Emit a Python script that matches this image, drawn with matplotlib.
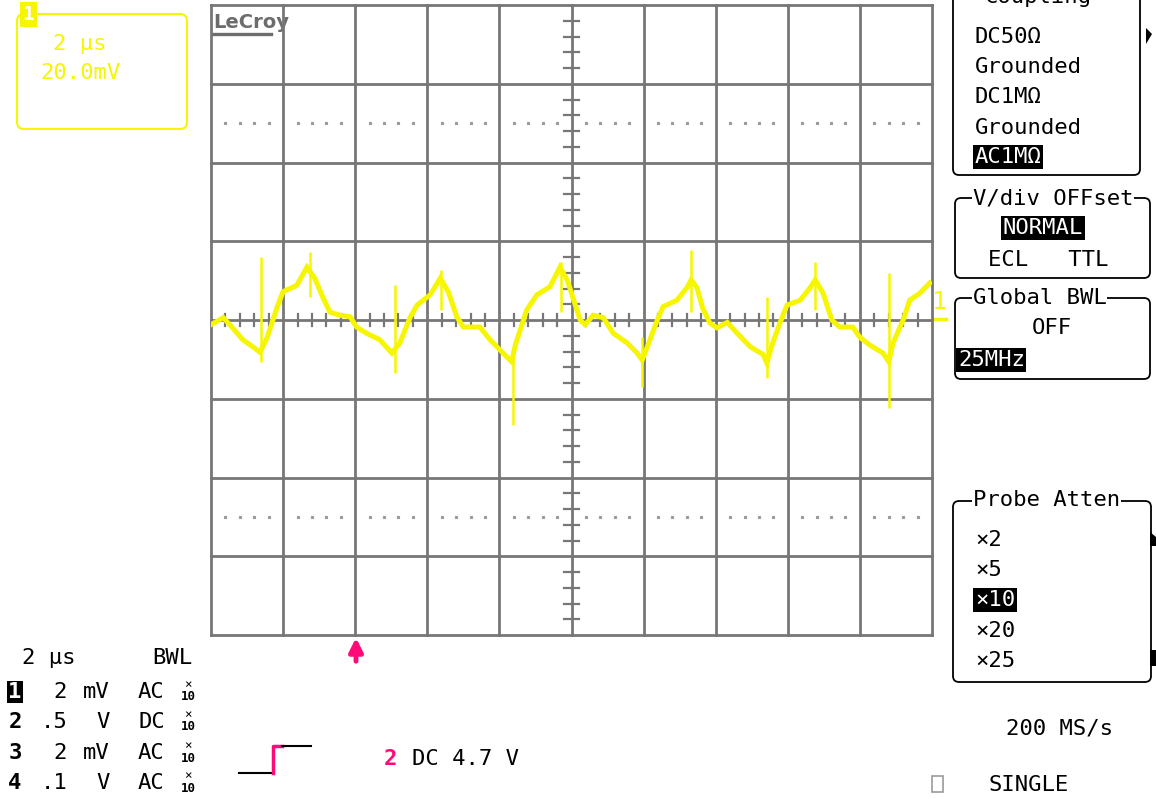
import matplotlib
matplotlib.use("Agg")
import matplotlib.pyplot as plt
from matplotlib.patches import FancyBboxPatch, Rectangle, Polygon

# Trace 1: time in divisions (2 us/div), level in divisions
trace_x = [0.00, 0.17, 0.30, 0.44, 0.58, 0.68, 0.78, 0.92, 1.00, 1.19, 1.33, 1.44,
           1.55, 1.65, 1.79, 1.93, 2.02, 2.16, 2.34, 2.51, 2.62, 2.76, 2.86, 3.04,
           3.18, 3.29, 3.41, 3.50, 3.73, 3.87, 4.05, 4.17, 4.22, 4.38, 4.52, 4.70,
           4.84, 4.94, 5.12, 5.19, 5.30, 5.44, 5.58, 5.77, 5.91, 5.98, 6.06, 6.19,
           6.27, 6.46, 6.60, 6.66, 6.74, 6.82, 6.92, 7.02, 7.16, 7.30, 7.48, 7.66,
           7.71, 7.78, 7.89, 7.99, 8.17, 8.31, 8.38, 8.49, 8.61, 8.72, 8.90, 9.00,
           9.14, 9.32, 9.40, 9.46, 9.60, 9.69, 9.83, 9.97]
trace_y = [-0.06, 0.03, -0.10, -0.25, -0.34, -0.41, -0.22, 0.17, 0.36, 0.44, 0.67, 0.53,
           0.29, 0.10, 0.06, 0.04, -0.09, -0.17, -0.25, -0.42, -0.29, 0.03, 0.19, 0.32,
           0.53, 0.36, 0.04, -0.09, -0.09, -0.25, -0.42, -0.53, -0.32, 0.13, 0.32, 0.42,
           0.67, 0.51, 0.00, -0.06, 0.06, 0.03, -0.17, -0.29, -0.42, -0.51, -0.32, 0.00,
           0.17, 0.25, 0.41, 0.51, 0.41, 0.15, -0.04, -0.10, -0.03, -0.17, -0.34, -0.44,
           -0.55, -0.32, -0.04, 0.19, 0.25, 0.41, 0.51, 0.34, 0.00, -0.09, -0.09, -0.22,
           -0.32, -0.42, -0.53, -0.29, 0.00, 0.25, 0.34, 0.47]

# switching spikes on the trace
spike_x = [0.69, 1.37, 2.55, 3.19, 4.19, 4.86, 5.98, 6.66, 7.71, 8.38, 9.40]
spike_top = [0.80, 0.86, 0.44, 0.63, -0.40, 0.74, -0.22, 0.89, 0.29, 0.74, 0.60]
spike_bottom = [-0.53, 0.29, -0.67, 0.13, -1.33, 0.10, -0.85, 0.10, -0.74, 0.13, -1.12]

YEL = '#f6f600'
PINK = '#ff0a78'
GRID = '#777777'
MONO = 'DejaVu Sans Mono'
FS = 16

fig = plt.figure(figsize=(11.56, 7.99), dpi=100)
fig.patch.set_facecolor('white')

# overlay in pixel coordinates for the scope's text panels
ov = fig.add_axes([0, 0, 1, 1])
ov.set_xlim(0, 1156)
ov.set_ylim(799, 0)
ov.axis('off')

# graticule
ax = fig.add_axes([211 / 1156, (799 - 635) / 799, 721 / 1156, 630 / 799])
ax.set_xlim(0, 10)
ax.set_ylim(-4, 4)
ax.axis('off')

for i in range(11):
    ax.axvline(i, color=GRID, lw=2, clip_on=False, zorder=1)
for j in range(-4, 5):
    ax.axhline(j, color=GRID, lw=2, clip_on=False, zorder=1)

# minor ticks on the centre cross
for k in range(50):
    if k % 5:
        ax.plot([k / 5, k / 5], [-0.075, 0.075], color=GRID, lw=1.6, zorder=1)
for k in range(-20, 20):
    if k % 5:
        ax.plot([4.89, 5.11], [k / 5, k / 5], color=GRID, lw=1.6, zorder=1)

# dotted rows
dots = [i + k / 5 for i in range(10) for k in range(1, 5) if abs(i + k / 5 - 5) > 0.01]
for yy in (2.5, -2.5):
    ax.plot(dots, [yy] * len(dots), ls='none', marker='s', ms=1.3, color='#9a9a9a', zorder=1)

ax.plot(trace_x, trace_y, color=YEL, lw=3.6, solid_joinstyle='miter', zorder=3)
ax.vlines(spike_x, spike_bottom, spike_top, color=YEL, lw=1.8, zorder=3)

# LeCroy logo
ov.text(213, 22, 'LeCroy', fontsize=14, fontweight='bold', color='#6c6c6c',
        ha='left', va='center', family='DejaVu Sans')
ov.plot([213, 271], [34, 34], color='#6c6c6c', lw=2.4)

# trace label box
ov.add_patch(FancyBboxPatch((17, 14), 170, 115, boxstyle='round,pad=0,rounding_size=7',
                            fill=False, ec=YEL, lw=1.5))
ov.add_patch(Rectangle((20, 2), 17, 25, fc=YEL, ec='none'))
ov.text(28.5, 14, '1', color='white', fontsize=14, fontweight='bold', ha='center', va='center', family=MONO)
ov.text(80, 44, '2 µs', color=YEL, fontsize=FS, ha='center', va='center', family=MONO)
ov.text(81, 73, '20.0mV', color=YEL, fontsize=FS, ha='center', va='center', family=MONO)

# trace level marker
ov.text(939, 302, '1', color=YEL, fontsize=18, ha='center', va='center', family=MONO)
ov.plot([933, 946], [319, 319], color=YEL, lw=2.5)

# trigger position arrow
ov.annotate('', xy=(356, 635), xytext=(356, 664),
            arrowprops=dict(arrowstyle='-|>', color=PINK, lw=3.5, mutation_scale=20))

# right hand menu panels
def panel(x0, y0, x1, y1):
    ov.add_patch(FancyBboxPatch((x0, y0), x1 - x0, y1 - y0, boxstyle='round,pad=0,rounding_size=6',
                                fill=False, ec='black', lw=1.3))

def item(x, y, s, hl=False, ha='left'):
    if hl:
        ov.text(x, y, s, color='white', fontsize=FS, ha=ha, va='center', family=MONO,
                bbox=dict(facecolor='black', edgecolor='none', pad=1.2))
    else:
        ov.text(x, y, s, color='black', fontsize=FS, ha=ha, va='center', family=MONO)

def title(x, y, s):
    ov.text(x, y, s, color='black', fontsize=FS, ha='left', va='center', family=MONO,
            bbox=dict(facecolor='white', edgecolor='none', pad=0.5))

panel(953, -20, 1140, 175)
title(985, -3, 'Coupling')
item(975, 37, 'DC50Ω')
item(975, 67, 'Grounded')
item(975, 97, 'DC1MΩ')
item(975, 128, 'Grounded')
item(975, 157, 'AC1MΩ', hl=True)
ov.add_patch(Polygon([[1146, 28], [1152, 34], [1146, 44]], closed=True, fc='black', ec='none'))

panel(955, 198, 1150, 278)
title(973, 198, 'V/div OFFset')
item(1003, 228, 'NORMAL', hl=True)
item(988, 260, 'ECL   TTL')

panel(955, 298, 1150, 379)
title(973, 298, 'Global BWL')
item(1032, 328, 'OFF')
item(958, 360, '25MHz', hl=True)

panel(953, 501, 1151, 682)
title(973, 500, 'Probe Atten')
item(975, 540, '×2')
item(975, 570, '×5')
item(975, 600, '×10', hl=True)
item(975, 631, '×20')
item(975, 661, '×25')
ov.add_patch(Polygon([[1150, 532], [1156, 537], [1156, 546], [1150, 546]], closed=True, fc='black', ec='none'))
ov.add_patch(Polygon([[1150, 650], [1156, 650], [1156, 666], [1150, 666]], closed=True, fc='black', ec='none'))

item(1060, 729, '200 MS/s', ha='center')
ov.add_patch(Rectangle((932, 776), 11, 16, fill=False, ec='#9a9a9a', lw=1.2))
item(989, 785, 'SINGLE')

# bottom left channel summary
item(22, 658, '2 µs')
item(152, 658, 'BWL')
rows_y = [692, 722, 753, 783]
ch_val = ['2', '.5', '2', '.1']
ch_unit = ['mV', 'V', 'mV', 'V']
ch_coup = ['AC', 'DC', 'AC', 'AC']
for n, yy in enumerate(rows_y):
    if n == 0:
        ov.text(15, yy, '1', color='white', fontsize=FS, fontweight='bold', ha='center', va='center',
                family=MONO, bbox=dict(facecolor='black', edgecolor='none', pad=0.8))
    else:
        ov.text(15, yy, str(n + 1), color='black', fontsize=FS, fontweight='bold', ha='center',
                va='center', family=MONO)
    ov.text(67, yy, ch_val[n], color='black', fontsize=FS, ha='right', va='center', family=MONO)
    ov.text(110, yy, ch_unit[n], color='black', fontsize=FS, ha='right', va='center', family=MONO)
    ov.text(138, yy, ch_coup[n], color='black', fontsize=FS, ha='left', va='center', family=MONO)
    ov.text(188, yy - 7, '×', color='black', fontsize=9, ha='center', va='center', family=MONO)
    ov.text(188, yy + 5, '10', color='black', fontsize=9, fontweight='bold', ha='center',
            va='center', family=MONO)

# trigger icon
ov.plot([239, 272], [773, 773], color='black', lw=1.5)
ov.plot([273, 273, 282], [773, 746, 746], color=PINK, lw=2.5)
ov.plot([282, 311], [746, 746], color='black', lw=1.5)
ov.text(390, 759, '2', color=PINK, fontsize=FS, fontweight='bold', ha='center', va='center', family=MONO)
item(412, 759, 'DC 4.7 V')

fig.savefig('out.png', dpi=100, facecolor='white')
